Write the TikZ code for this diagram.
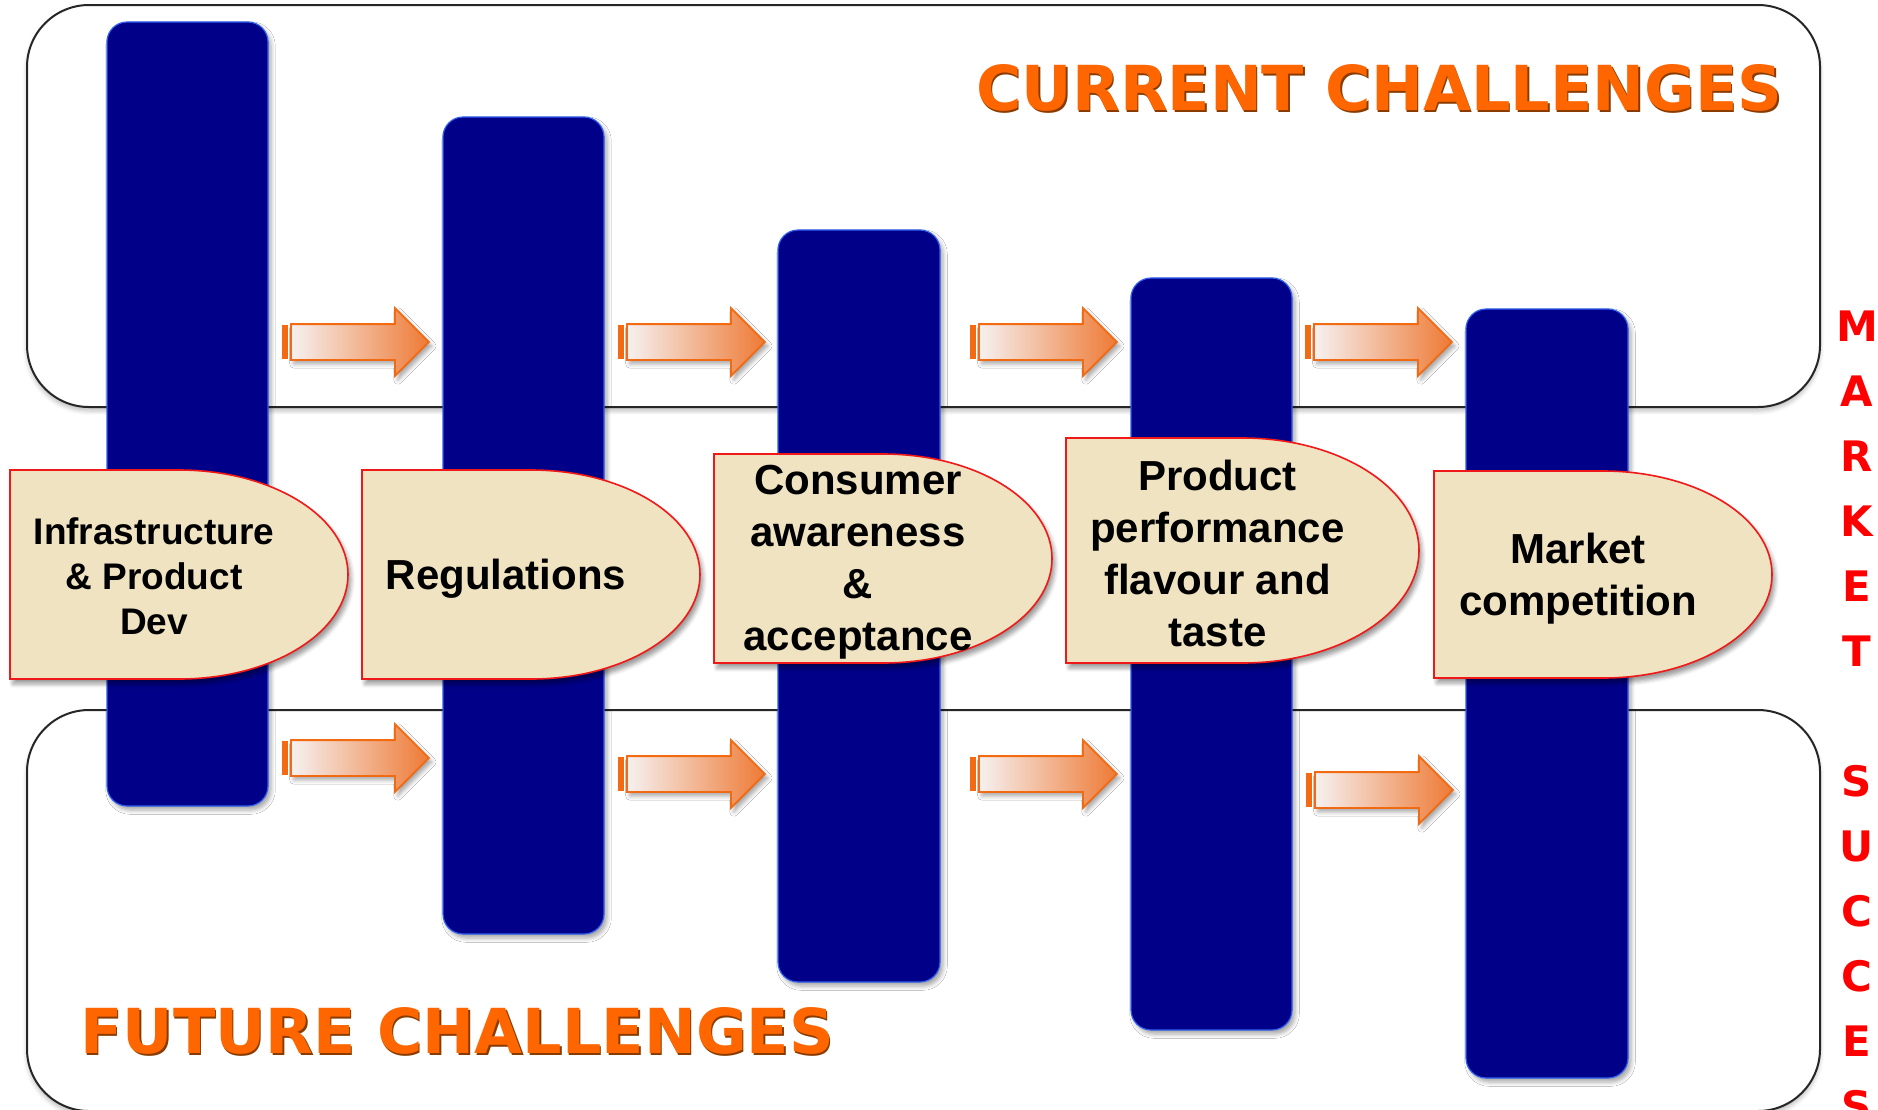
\documentclass[tikz,border=0pt]{standalone}
\usepackage{fontspec}
\setmainfont{Liberation Sans}
\newfontfamily\headfont{DejaVu Sans}
\usetikzlibrary{shapes.arrows,shadows.blur,calc}

\definecolor{barblue}{HTML}{000088}
\definecolor{baredge}{HTML}{3060F0}
\definecolor{boxfill}{HTML}{F0E3C1}
\definecolor{boxedge}{HTML}{F01818}
\definecolor{arrowedge}{HTML}{F26A12}
\definecolor{arrowlight}{HTML}{F6F1F1}
\definecolor{arrowdark}{HTML}{EE7A35}
\definecolor{headorange}{HTML}{FF6600}
\definecolor{headshade}{HTML}{8A3C00}
\definecolor{marketred}{HTML}{FF0000}

\tikzset{
  challengeframe/.style={draw=black!85, line width=1pt, rounded corners=31pt, fill=white,
    blur shadow={shadow xshift=0pt, shadow yshift=-2pt, shadow opacity=25}},
  stagebar/.style={fill=barblue, draw=baredge, line width=0.6pt, rounded corners=10pt,
    blur shadow={shadow xshift=1.5pt, shadow yshift=-2pt, shadow opacity=35}},
  labelbox/.style={fill=boxfill, draw=boxedge, line width=0.8pt,
    blur shadow={shadow xshift=1.5pt, shadow yshift=-2.5pt, shadow opacity=40}},
  labeltext/.style={font=\bfseries\fontsize{21pt}{26pt}\selectfont, align=center, inner sep=0pt},
  flowarrow/.style={shape=single arrow, anchor=tail, single arrow head extend=8pt,
    single arrow tip angle=90, inner xsep=0pt, inner ysep=8.5pt, minimum height=69pt,
    draw=arrowedge, line width=0.9pt, left color=arrowlight, right color=arrowdark,
    blur shadow={shadow xshift=1.5pt, shadow yshift=-2pt, shadow opacity=35}},
  headline/.style={font=\headfont\bfseries\fontsize{31pt}{31pt}\selectfont, text=headorange,
    anchor=base west, inner sep=0pt},
  sideletter/.style={font=\headfont\bfseries\fontsize{21pt}{21pt}\selectfont, text=marketred,
    anchor=base, inner sep=0pt}
}

% flat left side, half ellipse on the right: #1,#2 top left corner, #3 width, #4 height
\newcommand{\labelshape}[4]{%
  \path[labelbox] (#1,#2) -- ({#1+#3/2},#2)
    .. controls ({#1+#3/2+0.5523*#3/2},#2) and ({#1+#3},{#2+#4/2-0.5523*#4/2}) .. ({#1+#3},{#2+#4/2})
    .. controls ({#1+#3},{#2+#4/2+0.5523*#4/2}) and ({#1+#3/2+0.5523*#3/2},{#2+#4}) .. ({#1+#3/2},{#2+#4})
    -- (#1,{#2+#4}) -- cycle;}

\begin{document}
\begin{tikzpicture}[x=0.5pt,y=-0.5pt]
  \useasboundingbox (0,0) rectangle (1878,1109);

  % the two challenge bands
  \path[challengeframe] (27,5) rectangle (1820,407);
  \path[challengeframe] (27,710) rectangle (1820,1111);

  % arrows between the stages
  \foreach \x/\y [count=\i] in {282/342,618/342,970/342,1305/342} {
    \node[flowarrow] (up\i) at (\x+8,\y) {};
    \fill[arrowedge] ($(up\i.tail)+(-8,-17)$) rectangle ($(up\i.tail)+(-2.5,17)$);
  }
  \foreach \x/\y [count=\i] in {282/758,618/774,970/774,1306/790} {
    \node[flowarrow] (down\i) at (\x+8,\y) {};
    \fill[arrowedge] ($(down\i.tail)+(-8,-17)$) rectangle ($(down\i.tail)+(-2.5,17)$);
  }

  % stage bars
  \path[stagebar] (107,22) rectangle (268,806);
  \path[stagebar] (443,117) rectangle (604,934);
  \path[stagebar] (778,230) rectangle (940,982);
  \path[stagebar] (1131,278) rectangle (1292,1030);
  \path[stagebar] (1466,309) rectangle (1628,1078);

  % stage labels
  \labelshape{10}{470}{338}{209}
  \node[labeltext, font=\bfseries\fontsize{18.5pt}{22.5pt}\selectfont] (infra) at (154,576)
    {Infrastructure\\ \& Product\\ Dev};
  \labelshape{362}{470}{338}{209}
  \node[labeltext] (regs) at (506,579) {Regulations};
  \labelshape{714}{454}{338}{209}
  \node[labeltext] (aware) at (858,562) {Consumer\\ awareness\\ \&\\ acceptance};
  \labelshape{1066}{438}{353}{225}
  \node[labeltext] (perf) at (1217.5,553) {Product\\ performance\\ flavour and\\ taste};
  \labelshape{1434}{471}{338}{207}
  \node[labeltext] (compet) at (1578,579) {Market\\ competition};

  % band titles
  \node[headline, text=headshade] (curshade) at (977.5,112.5) {CURRENT CHALLENGES};
  \node[headline] (curtitle) at (976,110) {CURRENT CHALLENGES};
  \node[headline, text=headshade] (futshade) at (81.5,1055.5) {FUTURE CHALLENGES};
  \node[headline] (futtitle) at (80,1053) {FUTURE CHALLENGES};

  % market success, one letter under the other
  \foreach \ch [count=\i] in {M,A,R,K,E,T}
    \node[sideletter] (mk\i) at (1857,{341.5+65*(\i-1)}) {\ch};
  \foreach \ch [count=\i] in {S,U,C,C,E,S}
    \node[sideletter] (sc\i) at (1857,{796.5+65*(\i-1)}) {\ch};
\end{tikzpicture}
\end{document}
